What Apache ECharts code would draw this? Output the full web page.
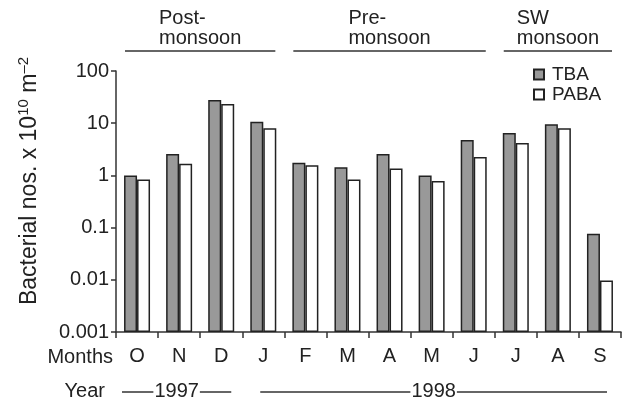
<!DOCTYPE html>
<html>
<head>
<meta charset="utf-8">
<script src="https://cdn.jsdelivr.net/npm/echarts@6/dist/echarts.min.js"></script>
<style>html,body{margin:0;padding:0;background:#fff;}#c{width:624px;height:403px;}</style>
</head>
<body>
<div id="c"></div>
<script>
const months = ['O','N','D','J','F','M','A','M','J','J','A','S'];
const tba  = [1.0, 2.56, 27.9, 10.7, 1.75, 1.44, 2.56, 1.0, 4.76, 6.5, 9.5, 0.076];
const paba = [0.83, 1.68, 23.4, 8.0, 1.56, 0.83, 1.36, 0.78, 2.25, 4.17, 8.0, 0.0097];
const yTickLabels = ['0.001','0.01','0.1','1','10','100'];
const seasonTop = ['Post-','Pre-','SW'];
const seasonBottom = ['monsoon','monsoon','monsoon'];
const seasonStart = [0, 4, 9];
const seasonEnd = [3, 8, 11];
const yearLabels = ['1997','1998'];
const yearStart = [0, 3];
const yearEnd = [2, 11];

const FONT = 'Liberation Sans, Arial, Helvetica, sans-serif';
const FS = 20;
const TXT = '#222';
const LINE = '#333';

const chart = echarts.init(document.getElementById('c'), null, {renderer:'canvas'});
const option = {
  animation: false,
  backgroundColor: '#fff',
  textStyle: {fontFamily: FONT},
  grid: {left: 116, right: 3, top: 71, bottom: 71, containLabel: false},
  legend: {
    data: ['TBA','PABA'], orient: 'vertical', left: 533, top: 65, icon: 'rect',
    itemWidth: 10, itemHeight: 10, itemGap: 1, padding: 0,
    textStyle: {fontSize: 19, color: TXT, fontFamily: FONT, padding:[0,0,0,3]}
  },
  xAxis: {
    type: 'category', data: months, boundaryGap: true,
    axisLine: {lineStyle: {color: LINE, width: 1.5}},
    axisTick: {show: true, interval: 0, length: 6, lineStyle: {color: LINE, width: 1.5}},
    axisLabel: {interval: 0, fontSize: FS, color: TXT, margin: 14, fontFamily: FONT}
  },
  yAxis: {
    type: 'log', logBase: 10, min: 0.001, max: 100, startValue: 0.001,
    axisLine: {show: true, lineStyle: {color: LINE, width: 1.5}},
    axisTick: {show: true, length: 5, lineStyle: {color: LINE, width: 1.5}},
    splitLine: {show: false},
    minorTick: {show: false},
    axisLabel: {fontSize: FS, color: TXT, margin: 7, fontFamily: FONT,
      formatter: function(v, i){ return yTickLabels[i]; }}
  },
  series: [
    {name: 'TBA', type: 'bar', data: tba, barWidth: 13, barGap: '0%',
     itemStyle: {color: '#999999', borderColor: '#222', borderWidth: 1.5}},
    {name: 'PABA', type: 'bar', data: paba, barWidth: 13, barGap: '0%',
     itemStyle: {color: '#ffffff', borderColor: '#222', borderWidth: 1.5}}
  ]
};
chart.setOption(option);

const c0 = chart.convertToPixel({xAxisIndex: 0}, 0);
const c1 = chart.convertToPixel({xAxisIndex: 0}, 1);
const bw = c1 - c0;
const catL = i => chart.convertToPixel({xAxisIndex: 0}, i) - bw/2;
const catR = i => chart.convertToPixel({xAxisIndex: 0}, i) + bw/2;
const yBottom = chart.convertToPixel({yAxisIndex: 0}, 0.001);
const yTop = chart.convertToPixel({yAxisIndex: 0}, 100);

const mctx = document.createElement('canvas').getContext('2d');
mctx.font = FS + 'px ' + FONT;

const g = [];
for (let k = 0; k < seasonTop.length; k++) {
  const x1 = catL(seasonStart[k]) + 9, x2 = catR(seasonEnd[k]) - 9;
  const ly = yTop - 20;
  g.push({type:'line', shape:{x1:x1, y1:ly, x2:x2, y2:ly}, style:{stroke:LINE, lineWidth:1.5}});
  const w = mctx.measureText(seasonBottom[k]).width;
  const tx = (x1 + x2)/2 - w/2;
  g.push({type:'text', x: tx, y: ly - 3, style:{text: seasonBottom[k], font: FS+'px '+FONT, fill: TXT, textAlign:'left', textVerticalAlign:'bottom'}});
  g.push({type:'text', x: tx, y: ly - 23, style:{text: seasonTop[k], font: FS+'px '+FONT, fill: TXT, textAlign:'left', textVerticalAlign:'bottom'}});
}
g.push({type:'text', x: 113, y: yBottom + 25, style:{text:'Months', font: FS+'px '+FONT, fill: TXT, textAlign:'right', textVerticalAlign:'middle'}});
const yy = yBottom + 59;
g.push({type:'text', x: 105, y: yy, style:{text:'Year', font: FS+'px '+FONT, fill: TXT, textAlign:'right', textVerticalAlign:'middle'}});
for (let k = 0; k < yearLabels.length; k++) {
  const a = catL(yearStart[k]) + (k === 0 ? 6 : 18);
  const b = catR(yearEnd[k]) - (k === 0 ? 11 : 14);
  const mid = (a + b)/2;
  const w = mctx.measureText(yearLabels[k]).width;
  g.push({type:'line', shape:{x1:a, y1:yy + 1, x2:mid - w/2 - 1, y2:yy + 1}, style:{stroke:LINE, lineWidth:1.5}});
  g.push({type:'line', shape:{x1:mid + w/2 + 1, y1:yy + 1, x2:b, y2:yy + 1}, style:{stroke:LINE, lineWidth:1.5}});
  g.push({type:'text', x: mid, y: yy, style:{text: yearLabels[k], font: FS+'px '+FONT, fill: TXT, textAlign:'center', textVerticalAlign:'middle'}});
}
g.push({type:'text', x: 30, y: 181, rotation: Math.PI/2,
  style:{text:'Bacterial nos. x 10{s|10} m{s|–2}', font: '23px '+FONT, fill: TXT, textAlign:'center', textVerticalAlign:'middle',
    rich:{s:{fontSize: 15, verticalAlign:'top', padding:[0,0,12,0], fill: TXT}}}});
chart.setOption({graphic: g});
</script>
</body>
</html>
